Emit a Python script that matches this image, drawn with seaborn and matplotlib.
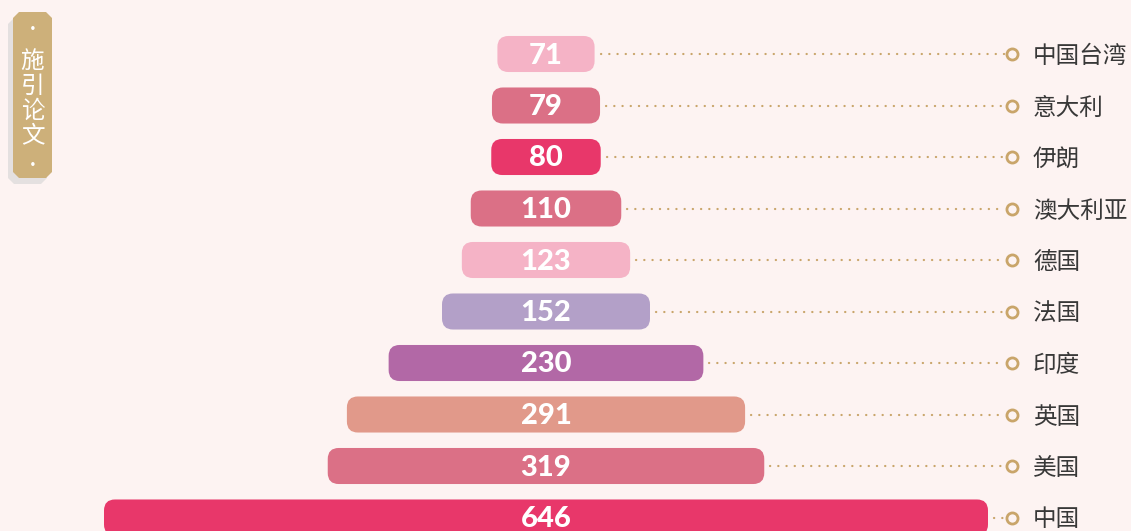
import matplotlib
matplotlib.use("Agg")
import matplotlib.pyplot as plt
import seaborn as sns
from matplotlib.patches import FancyBboxPatch, Polygon

# Citing papers by country/region
regions = ["中国台湾", "意大利", "伊朗", "澳大利亚", "德国", "法国", "印度", "英国", "美国", "中国"]
papers = [71, 79, 80, 110, 123, 152, 230, 291, 319, 646]
bar_colors = ["#f5b3c6", "#db7086", "#e8376a", "#db7086", "#f5b3c6",
              "#b3a0c8", "#b268a6", "#e1998a", "#db7086", "#e8376a"]

BG = "#fdf3f2"
GOLD = "#c9a56a"
W, H = 1131, 531

sns.set_theme(style="white")
plt.rcParams["font.family"] = ["Noto Sans CJK SC", "DejaVu Sans"]

fig = plt.figure(figsize=(W / 100, H / 100), dpi=100, facecolor=BG)
ax = fig.add_axes([0, 0, 1, 1])
ax.set_facecolor(BG)

sns.barplot(x=papers, y=regions, hue=regions, palette=bar_colors, orient="h",
            width=0.70, legend=False, ax=ax)

# horizontal scale: pixels per unit, bars centred on x = 0
px_per_unit = 884 / 646
center_px = 546
row_px = 51.5
first_row_px = 54
ax.set_xlim(-center_px / px_per_unit, (W - center_px) / px_per_unit)
ax.set_ylim((H - first_row_px) / row_px, -first_row_px / row_px)
ax.axis("off")

aspect = (1 / row_px) / (1 / px_per_unit)
radius = 11 / px_per_unit
dot_x = (1012 - center_px) / px_per_unit
label_x = (1033 - center_px) / px_per_unit

for patch, val, col, name in zip(list(ax.patches), papers, bar_colors, regions):
    w = patch.get_width()
    h = patch.get_height()
    y = patch.get_y()
    patch.remove()
    box = FancyBboxPatch((-w / 2, y), w, h,
                         boxstyle=f"round,pad=0,rounding_size={radius}",
                         mutation_aspect=aspect, facecolor=col, edgecolor="none")
    ax.add_patch(box)
    yc = y + h / 2
    ax.text(0, yc + 1.5 / row_px, str(val), ha="center", va="center", color="white",
            fontsize=21, fontweight="black", family=["Lato", "DejaVu Sans"])
    ax.plot([w / 2 + 6 / px_per_unit, dot_x - 7 / px_per_unit], [yc, yc],
            color=GOLD, lw=1.6, linestyle=(0, (0.1, 3.6)), dash_capstyle="round")
    ax.plot([dot_x], [yc], marker="o", markersize=8, markerfacecolor=BG,
            markeredgecolor=GOLD, markeredgewidth=2)
    ax.text(label_x, yc + 2.5 / row_px, name, ha="left", va="center",
            color="#383838", fontsize=17)


# vertical tag in the top-left corner
def tag_poly(x0, y0, x1, y1, c):
    pts = [(x0 + c, y0), (x1 - c, y0), (x1, y0 + c), (x1, y1 - c),
           (x1 - c, y1), (x0 + c, y1), (x0, y1 - c), (x0, y0 + c)]
    return [(px / W, 1 - py / H) for px, py in pts]


fig.patches.append(Polygon(tag_poly(8, 18, 47, 184, 6), closed=True,
                           transform=fig.transFigure, facecolor="#e4e0e0",
                           edgecolor="none", zorder=0))
fig.patches.append(Polygon(tag_poly(13, 12, 52, 178, 6), closed=True,
                           transform=fig.transFigure, facecolor="#cdb07a",
                           edgecolor="none", zorder=1))
tag_cx = 32.5 / W
for py in (30, 166):
    fig.text(tag_cx, 1 - py / H, "·", ha="center", va="center", color="white",
             fontsize=10, fontweight="bold")
for i, ch in enumerate("施引论文"):
    fig.text(tag_cx, 1 - (61 + 25 * i) / H, ch, ha="center", va="center",
             color="white", fontsize=17, fontweight="light")

fig.savefig("out.png", dpi=100, facecolor=BG)
